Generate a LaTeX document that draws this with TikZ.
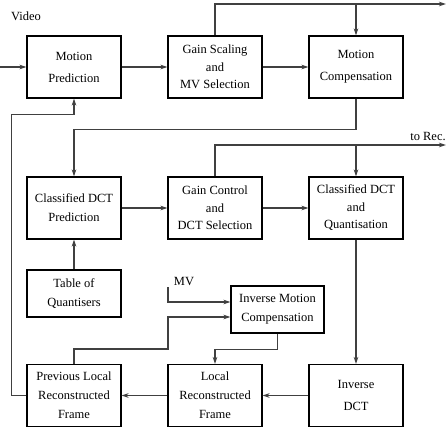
\documentclass[tikz,border=0pt]{standalone}
\usepackage{fontspec}
\setmainfont{Liberation Serif}
\usepackage{tikz}
\usetikzlibrary{arrows.meta,calc}

\begin{document}
\begin{tikzpicture}[x=1pt,y=-1pt,
    blk/.style={draw, line width=1.1pt, minimum width=94pt, minimum height=62pt,
      inner sep=0pt, align=center, font=\fontsize{12.5}{19}\selectfont},
    wideblk/.style={blk, font=\fontsize{12.5}{22}\selectfont},
    tightblk/.style={blk, font=\fontsize{12.5}{17.5}\selectfont},
    smallblk/.style={blk, minimum height=47pt},
    lbl/.style={font=\fontsize{12.5}{14}\selectfont},
    wire/.style={draw=black!75, line width=1.1pt},
    arr/.style={wire, -{Stealth[length=7pt,width=4.5pt,inset=2pt]}}]
  \useasboundingbox (0,0) rectangle (446,430);

  % row 1
  \node[wideblk] (mp) at (74,67) {Motion\\Prediction};
  \node[tightblk] (gs) at (215,67) {Gain Scaling\\and\\MV Selection};
  \node[wideblk] (mc) at (356,67) {Motion\\Compensation};

  % row 2
  \node[blk] (cdp) at (74,208) {Classified DCT\\Prediction};
  \node[tightblk] (gc) at (215,208) {Gain Control\\and\\DCT Selection};
  \node[tightblk] (cdq) at (356,208) {Classified DCT\\and\\Quantisation};

  % row 3
  \node[smallblk] (tq) at (74,293.5) {Table of\\Quantisers};
  \node[smallblk, minimum width=93pt] (imc) at (277.5,309.5)
    {Inverse Motion\\Compensation};

  % row 4
  \node[blk] (plr) at (74,395.5) {Previous Local\\Reconstructed\\Frame};
  \node[blk] (lr) at (215,395.5) {Local\\Reconstructed\\Frame};
  \node[wideblk] (idct) at (356,395.5) {Inverse\\DCT};

  % labels
  \node[lbl] (vid) at (26,16) {Video};
  \node[lbl] (rec) at (428,136) {to Rec.};
  \node[lbl] (mv) at (184,281) {MV};

  \coordinate (in) at (0,67);
  \coordinate (out1) at (446,4);
  \coordinate (out2) at (446,145);
  \coordinate (mvs) at (168,287);

  % forward path
  \draw[arr] (in) -- (mp);
  \draw[arr] (mp) -- (gs);
  \draw[arr] (gs) -- (mc);
  \draw[arr] (gs.north) |- (out1);
  \draw[arr] (mc.north |- out1) -- (mc.north);
  \draw[arr] (mc.south) -- ++(0,31) -| (cdp.north);
  \draw[arr] (tq) -- (cdp);
  \draw[arr] (cdp) -- (gc);
  \draw[arr] (gc) -- (cdq);
  \draw[arr] (gc.north) |- (out2);
  \draw[arr] (cdq.north |- out2) -- (cdq.north);
  \draw[arr] (cdq) -- (idct);

  % reconstruction loop
  \draw[arr] (idct) -- (lr);
  \draw[arr] (lr) -- (plr);
  \draw[arr] (mvs) |- ([yshift=7.5pt]imc.west);
  \draw[arr] (plr.north) -- ++(0,-15) -- ++(94,0) |- ([yshift=-7.5pt]imc.west);
  \draw[arr] (imc.south) -- ++(0,16) -| (lr.north);
  \draw[arr] (plr.west) -- ++(-15,0) |- ($(mp.south)+(0,16)$) -- (mp.south);
\end{tikzpicture}
\end{document}
